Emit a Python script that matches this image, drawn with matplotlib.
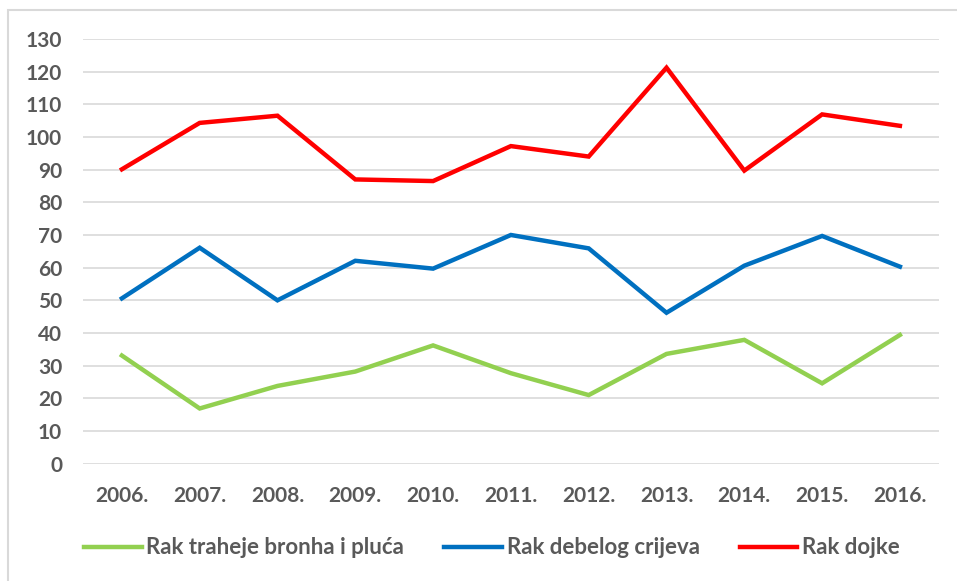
import matplotlib
matplotlib.use('Agg')
import matplotlib.pyplot as plt
from matplotlib.patches import Rectangle

years = ["2006.", "2007.", "2008.", "2009.", "2010.", "2011.",
         "2012.", "2013.", "2014.", "2015.", "2016."]
pluca = [33.1, 16.9, 23.8, 28.2, 36.2, 27.7, 21.0, 33.6, 37.9, 24.6, 39.4]
crijevo = [50.6, 66.1, 50.0, 62.1, 59.7, 70.0, 65.9, 46.2, 60.6, 69.7, 60.3]
dojka = [90.1, 104.3, 106.5, 87.0, 86.5, 97.2, 94.0, 121.2, 89.7, 106.9, 103.4]

plt.rcParams['font.family'] = ['Lato', 'DejaVu Sans']
txt = "#595959"

fig = plt.figure(figsize=(9.57, 5.81), dpi=100)
ax = fig.add_axes([0.0867, 0.2019, 0.8943, 0.7311])

# outer chart border
fig.patches.append(Rectangle((8 / 957, -0.1), 1.2, 1 - 10 / 581 + 0.1,
                             transform=fig.transFigure, fill=False,
                             edgecolor="#D9D9D9", linewidth=1.5))

x = range(len(years))
ax.plot(x, pluca, color="#92D050", lw=3.2, label="Rak traheje bronha i pluća", solid_joinstyle="miter")
ax.plot(x, crijevo, color="#0070C0", lw=3.2, label="Rak debelog crijeva", solid_joinstyle="miter")
ax.plot(x, dojka, color="#FF0000", lw=3.2, label="Rak dojke", solid_joinstyle="miter")

ax.set_xlim(-0.5, len(years) - 0.5)
ax.set_ylim(0, 130)
ax.set_yticks(range(0, 131, 10))
ax.set_xticks(list(x))
ax.set_xticklabels(years)
ax.grid(axis="y", color="#D9D9D9", lw=1.2)
ax.set_axisbelow(True)
for s in ax.spines.values():
    s.set_visible(False)
ax.tick_params(length=0, labelsize=15, labelcolor=txt)
ax.tick_params(axis="x", pad=16)
ax.tick_params(axis="y", pad=15)
for lab in ax.get_xticklabels() + ax.get_yticklabels():
    lab.set_fontweight("bold")

leg = fig.legend(loc="center", bbox_to_anchor=(0.514, 1 - 548 / 581), ncol=3,
                 frameon=False, handlelength=2.6, handletextpad=0.2,
                 columnspacing=1.8, prop={"size": 16, "weight": "bold"})
for t in leg.get_texts():
    t.set_color(txt)

fig.savefig("out.png", dpi=100)
plt.close()
